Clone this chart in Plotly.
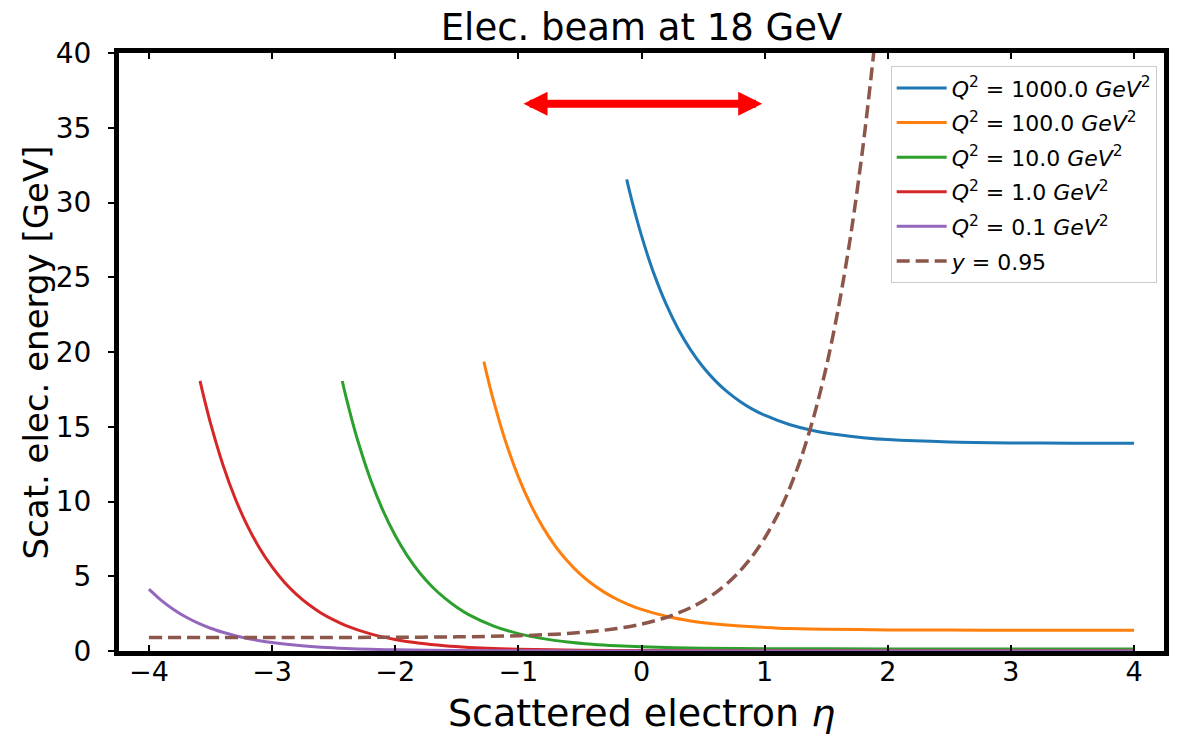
import plotly.graph_objects as go

# Scattered electron energy vs pseudorapidity, 18 GeV electron beam
eta_q1000 = [-0.12, -0.1, -0.05, 0.0, 0.05, 0.1, 0.2, 0.3, 0.4, 0.5, 0.6, 0.7, 0.8, 0.9, 1.0,
             1.2, 1.4, 1.6, 1.8, 2.0, 2.5, 3.0, 3.5, 4.0]
e_q1000 = [31.55, 30.85, 29.24, 27.78, 26.46, 25.26, 23.20, 21.51, 20.13, 19.00, 18.07, 17.31,
           16.69, 16.18, 15.77, 15.15, 14.73, 14.46, 14.27, 14.14, 13.98, 13.92, 13.90, 13.89]

eta_q100 = [-1.28, -1.25, -1.2, -1.1, -1.0, -0.9, -0.8, -0.7, -0.6, -0.5, -0.4, -0.3, -0.2, -0.1,
            0.0, 0.2, 0.4, 0.6, 0.8, 1.0, 1.2, 1.5, 2.0, 2.5, 3.0, 4.0]
e_q100 = [19.36, 18.31, 16.70, 13.92, 11.65, 9.79, 8.27, 7.02, 6.00, 5.16, 4.48, 3.92, 3.46, 3.09,
          2.78, 2.32, 2.01, 1.81, 1.67, 1.58, 1.51, 1.46, 1.41, 1.40, 1.39, 1.39]

eta_q10 = [-2.43, -2.4, -2.35, -2.3, -2.2, -2.1, -2.0, -1.9, -1.8, -1.7, -1.6, -1.5, -1.4, -1.2,
           -1.0, -0.8, -0.6, -0.4, -0.2, 0.0, 0.5, 1.0, 2.0, 3.0, 4.0]
e_q10 = [18.06, 17.01, 15.41, 13.96, 11.45, 9.40, 7.72, 6.35, 5.22, 4.30, 3.55, 2.93, 2.42, 1.67,
         1.165, 0.827, 0.600, 0.448, 0.346, 0.278, 0.190, 0.158, 0.141, 0.139, 0.139]

eta_q1 = [-3.585, -3.55, -3.5, -3.4, -3.3, -3.2, -3.1, -3.0, -2.9, -2.8, -2.7, -2.6, -2.5, -2.4,
          -2.2, -2.0, -1.8, -1.6, -1.4, -1.2, -1.0, -0.5, 0.0, 1.0, 2.0, 4.0]
e_q1 = [18.07, 16.85, 15.24, 12.48, 10.22, 8.37, 6.86, 5.62, 4.60, 3.77, 3.09, 2.53, 2.08, 1.70,
        1.145, 0.772, 0.522, 0.355, 0.242, 0.167, 0.1165, 0.0516, 0.0278, 0.0158, 0.0141, 0.0139]

eta_q01 = [-4.0, -3.9, -3.8, -3.7, -3.6, -3.5, -3.4, -3.3, -3.2, -3.1, -3.0, -2.8, -2.6, -2.4,
           -2.2, -2.0, -1.5, -1.0, 0.0, 1.0, 2.0, 4.0]
e_q01 = [4.14, 3.39, 2.78, 2.27, 1.86, 1.52, 1.25, 1.02, 0.837, 0.686, 0.562, 0.377, 0.253, 0.170,
         0.1145, 0.0772, 0.0293, 0.0117, 0.0028, 0.0016, 0.0014, 0.0014]

eta_y095 = [-4.0, -3.0, -2.0, -1.5, -1.0, -0.8, -0.6, -0.4, -0.2, 0.0, 0.2, 0.4, 0.5, 0.6, 0.7,
            0.8, 0.9, 1.0, 1.1, 1.2, 1.3, 1.4, 1.5, 1.6, 1.7, 1.8, 1.9, 2.0]
e_y095 = [0.900, 0.902, 0.917, 0.945, 1.022, 1.082, 1.171, 1.304, 1.503, 1.800, 2.243, 2.903,
          3.346, 3.888, 4.550, 5.358, 6.345, 7.550, 9.02, 10.82, 13.01, 15.70, 18.98, 22.98,
          27.86, 33.84, 41.13, 50.0]

q2_labels = ["1000.0", "100.0", "10.0", "1.0", "0.1"]
q2_colors = ["#1f77b4", "#ff7f0e", "#2ca02c", "#d62728", "#9467bd"]
q2_curves = [(eta_q1000, e_q1000), (eta_q100, e_q100), (eta_q10, e_q10),
             (eta_q1, e_q1), (eta_q01, e_q01)]

x_ticks = [-4, -3, -2, -1, 0, 1, 2, 3, 4]
x_tick_text = ["\u22124", "\u22123", "\u22122", "\u22121", "0", "1", "2", "3", "4"]
y_ticks = [0, 5, 10, 15, 20, 25, 30, 35, 40]

# eta range spanned by the double arrow (tip to tip) and its height
arrow_eta = [-0.97, 0.98]
arrow_energy = 36.6

FONT = "DejaVu Sans"

fig = go.Figure()
for i, (lab, col, (xs, ys)) in enumerate(zip(q2_labels, q2_colors, q2_curves)):
    fig.add_trace(go.Scatter(
        x=xs, y=ys, mode="lines",
        line=dict(color=col, width=3, shape="spline", smoothing=0.8),
        name=f"<i>Q</i><sup>2</sup> = {lab} <i>GeV</i><sup>2</sup>",
        legendgroup=f"g{i}",
    ))
fig.add_trace(go.Scatter(
    x=eta_y095, y=e_y095, mode="lines",
    line=dict(color="#8c564b", width=3.5, dash="13px,6px", shape="spline", smoothing=0.8),
    name="<i>y</i> = 0.95",
    legendgroup="g5",
))

# double-headed red arrow
fig.add_annotation(
    x=arrow_eta[1], y=arrow_energy, ax=arrow_eta[0], ay=arrow_energy,
    xref="x", yref="y", axref="x", ayref="y",
    text="", showarrow=True, arrowside="end+start",
    arrowhead=2, startarrowhead=2, arrowsize=0.6, startarrowsize=0.6,
    arrowwidth=8, arrowcolor="#ff0000", standoff=0, startstandoff=0,
)

# axis titles
fig.add_annotation(
    text="Scattered electron <i>η</i>", xref="paper", yref="paper",
    x=0.5, y=-0.104, xanchor="center", yanchor="middle", showarrow=False,
    font=dict(family=FONT, size=38, color="black"),
)
fig.add_annotation(
    text="Scat. elec. energy [GeV]", xref="paper", yref="paper",
    x=-0.079, y=0.5, xanchor="center", yanchor="middle", textangle=-90, showarrow=False,
    font=dict(family=FONT, size=34, color="black"),
)

fig.update_layout(
    width=1181, height=734,
    margin=dict(l=119, r=12, t=53, b=83),
    paper_bgcolor="white", plot_bgcolor="white",
    font=dict(family=FONT, color="black"),
    title=dict(text="Elec. beam at 18 GeV", x=0.5, xref="paper", xanchor="center",
               y=1 - 27 / 734, yref="container", yanchor="middle",
               font=dict(family=FONT, size=37, color="black")),
    showlegend=True,
    legend=dict(
        x=0.993, y=0.978, xanchor="right", yanchor="top",
        bgcolor="white", bordercolor="#cccccc", borderwidth=1,
        font=dict(family=FONT, size=22, color="black"),
        traceorder="grouped", tracegroupgap=3, itemwidth=50,
    ),
    hovermode=False,
)
fig.update_xaxes(
    range=[-4.243, 4.243], tickvals=x_ticks, ticktext=x_tick_text,
    ticks="inside", ticklen=6, tickwidth=1.5, tickcolor="black",
    showline=True, linewidth=5, linecolor="black", mirror="allticks",
    showgrid=False, zeroline=False, ticklabelstandoff=-7,
    tickfont=dict(family=FONT, size=27, color="black"),
)
fig.update_yaxes(
    range=[0, 40], tickvals=y_ticks,
    ticks="outside", ticklen=6, tickwidth=1.5, tickcolor="black",
    showline=True, linewidth=5, linecolor="black", mirror=True,
    showgrid=False, zeroline=False, ticklabelstandoff=11,
    tickfont=dict(family=FONT, size=28, color="black"),
)

fig.write_html("out.html")
